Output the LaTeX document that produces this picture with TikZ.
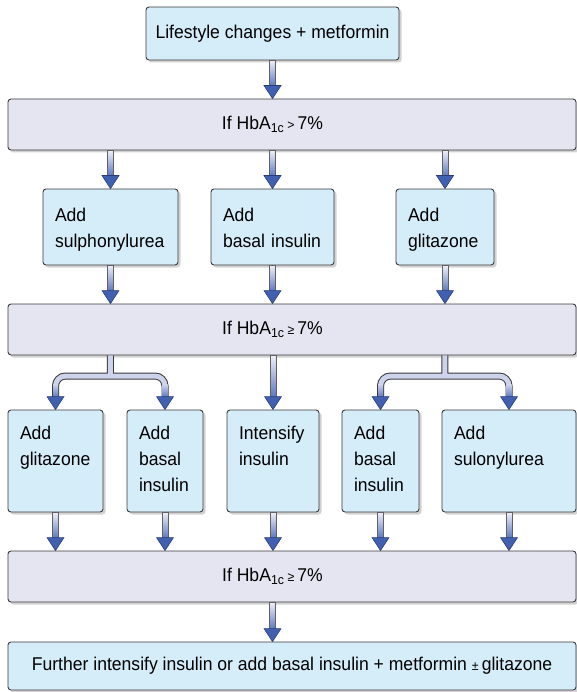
\documentclass[tikz,border=0pt]{standalone}
\usepackage{fontspec}
\setmainfont[FakeStretch=0.95]{Liberation Sans}
\usepackage{xcolor}
\usetikzlibrary{calc,shadows}
\definecolor{BOX}{HTML}{D5EDF9}
\definecolor{LAV}{HTML}{E5E5F2}
\definecolor{EDGE}{HTML}{3A3A3A}
\definecolor{HEADBLUE}{HTML}{4161B0}
\definecolor{HEADEDGE}{HTML}{2A3C78}
\definecolor{STEMTOP}{HTML}{EEEEF8}
\definecolor{STEMBOT}{HTML}{5C78C2}
\definecolor{FORK}{HTML}{CDD3EA}
\hyphenpenalty=10000

\tikzset{
  fathd/.style={fill=HEADBLUE, draw=HEADEDGE, line width=0.6pt, line join=miter},
  fatstem/.style={top color=STEMTOP, bottom color=STEMBOT, draw=EDGE!80, line width=0.5pt},
}
\newcommand{\smallsym}[1]{{\fontsize{13}{13}\selectfont #1}}
\newcommand{\fathead}[1]{\filldraw[fathd] ($#1+(-8.5,-13)$) -- #1 -- ($#1+(8.5,-13)$) -- cycle;}
\newcommand{\fatarrow}[2]{%
  \shadedraw[fatstem] ($#1+(-3,0)$) rectangle ($#2+(3,-12.5)$);
  \fathead{#2}}

\begin{document}
\begin{tikzpicture}[
    x=1pt, y=-1pt,
    font=\fontsize{18.5}{26}\selectfont,
    boxbase/.style={draw=EDGE, line width=0.9pt, rounded corners=3pt,
      drop shadow={shadow xshift=2.5pt, shadow yshift=-2.5pt, fill=black!35}},
    startbox/.style={boxbase, fill=BOX, minimum width=253pt, minimum height=53pt, inner sep=0pt},
    testbar/.style={boxbase, fill=LAV, minimum width=568pt, minimum height=51pt, inner sep=0pt},
    stepbox/.style={boxbase, fill=BOX, align=left, inner xsep=12pt, inner ysep=0pt},
    rowone/.style={stepbox, text height=33pt, text depth=43pt},
    rowtwo/.style={stepbox, text height=29pt, text depth=73pt},
    finbox/.style={boxbase, fill=BOX, minimum width=568pt, minimum height=48pt, inner sep=0pt},
    cond/.style={inner sep=0pt},
    forktube/.style={draw=FORK, line width=5pt, rounded corners=10pt,
      preaction={draw=EDGE, line width=7pt}},
    forkshade/.style={top color=FORK, bottom color=STEMBOT},
  ]
  \useasboundingbox (0,0) rectangle (577,692);

  % start and test bars
  \node[startbox] (top) at (272.5,33.5) {Lifestyle changes + metformin};
  \node[testbar] (c1) at (292,124.5) {};
  \node[testbar] (c2) at (292,329.5) {};
  \node[testbar] (c3) at (292,576.5) {};
  \node[cond] (t1) at (c1 -| top) {If HbA\textsubscript{1c}\,\smallsym{>}\,7\%};
  \node[cond] (t2) at (c2 -| top) {If HbA\textsubscript{1c}\,\smallsym{≥}\,7\%};
  \node[cond] (t3) at (c3 -| top) {If HbA\textsubscript{1c}\,\smallsym{≥}\,7\%};

  % first line of options
  \node[rowone, text width=111pt] (a1) at (110.5,227) {Add\\sulphonylurea};
  \node[rowone, text width=99pt] (a2) at (272.5,227) {Add\\basal insulin};
  \node[rowone, text width=74pt] (a3) at (445,227) {Add\\glitazone};

  % second line of options
  \node[rowtwo, text width=71pt] (d1) at (55.5,461) {Add\\glitazone};
  \node[rowtwo, text width=52pt] (d2) at (165,461) {Add\\basal\\insulin};
  \node[rowtwo, text width=68pt] (d3) at (273,461) {Intensify\\insulin};
  \node[rowtwo, text width=53pt] (d4) at (380.5,461) {Add\\basal\\insulin};
  \node[rowtwo, text width=110pt] (d5) at (509,461) {Add\\sulonylurea};

  \node[finbox] (fin) at (292,666)
    {Further intensify insulin or add basal insulin + metformin \smallsym{±}\,glitazone};

  % arrows
  \fatarrow{(top.south)}{(c1.north -| top)}
  \foreach \n in {a1,a2,a3} {
    \fatarrow{(c1.south -| \n)}{(\n.north)}
    \fatarrow{(\n.south)}{(c2.north -| \n)}
  }
  \fatarrow{(c2.south -| d3)}{(d3.north)}
  \foreach \n in {d1,d2,d3,d4,d5} {
    \fatarrow{(\n.south)}{(c3.north -| \n)}
  }
  \fatarrow{(c3.south -| top)}{(fin.north -| top)}

  % forks
  \coordinate (fl) at (0,376);
  \foreach \l/\r in {d1/d2,d4/d5} {
    \coordinate (k) at ($(\l.north)!0.5!(\r.north)$);
    \draw[forktube] (c2.south -| k) -- (k |- fl)
      ($(\l.north)+(0,-12)$) |- (fl -| \r) -- ($(\r.north)+(0,-12)$);
    \foreach \e in {\l,\r} {
      \shade[forkshade] ($(\e.north)+(-2.5,-25)$) rectangle ($(\e.north)+(2.5,-12.5)$);
      \fathead{(\e.north)}
    }
  }
\end{tikzpicture}
\end{document}
